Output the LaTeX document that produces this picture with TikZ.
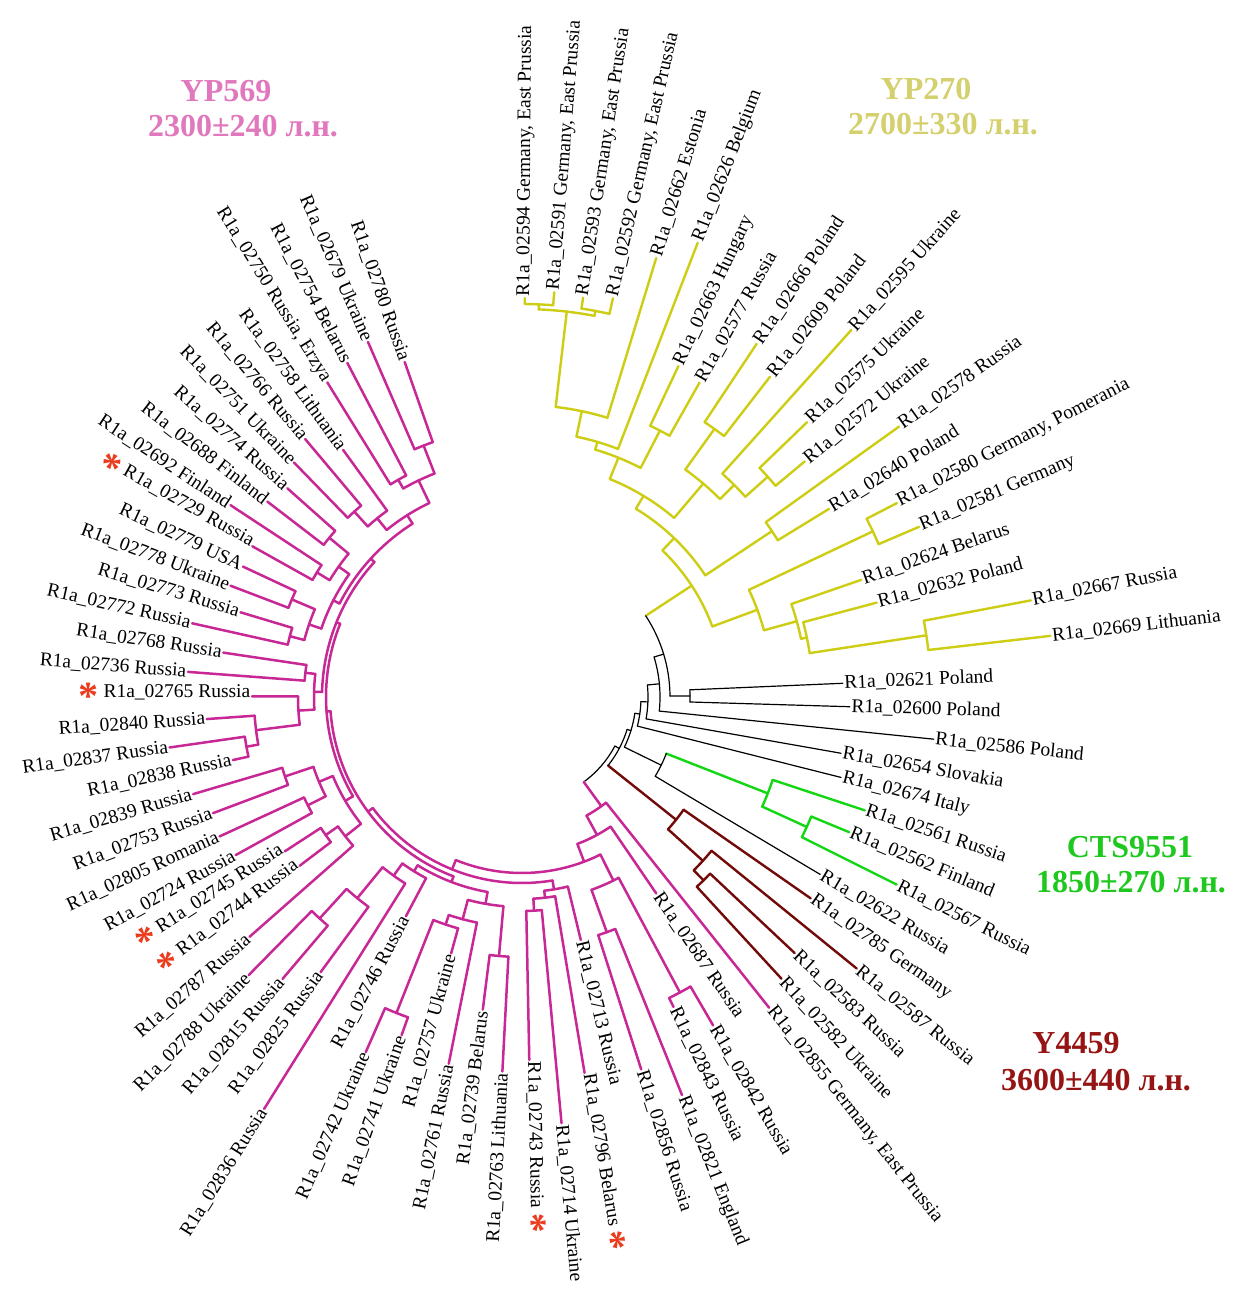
\documentclass[tikz,border=0pt]{standalone}
\usepackage{fontspec}
\setmainfont{Liberation Serif}
\definecolor{cpink}{RGB}{200,40,150}
\definecolor{tpink}{RGB}{225,120,190}
\definecolor{cyel}{RGB}{205,205,20}
\definecolor{tyel}{RGB}{212,208,110}
\definecolor{cgrn}{RGB}{20,215,20}
\definecolor{tgrn}{RGB}{30,200,30}
\definecolor{cbrn}{RGB}{115,10,10}
\definecolor{tbrn}{RGB}{150,20,20}
\definecolor{cast}{RGB}{235,60,30}
\newcommand\redast{\textcolor{cast}{\raisebox{-12pt}{\fontsize{40}{40}\selectfont\bfseries *}}}
\newcommand\nd[6]{%
  \pgfmathsetmacro\Aa{89.6-4.15*(#1)}%
  \pgfmathsetmacro\Ab{89.6-4.15*(#2)}%
  \pgfmathsetmacro\Am{89.6-4.15*(#4)}%
  \draw[#6] (\Aa:#3) arc[start angle=\Aa, end angle=\Ab, radius=#3pt];
  \draw[#6] (\Am:#5) -- (\Am:#3);
}
\newcommand\lf[5]{%
  \pgfmathsetmacro\A{89.6-4.15*(#1)}%
  \draw[#4] (\A:#2) -- (\A:#3) coordinate (t#1);
  \ifnum#1<44\relax
    \node[lab,anchor=west,rotate=\A] (l#1) at (t#1) {#5};
  \else
    \pgfmathsetmacro\B{\A+180}%
    \node[lab,anchor=east,rotate=\B] (l#1) at (t#1) {#5};
  \fi
}
\tikzset{
  lab/.style={font=\fontsize{19.5}{20}\selectfont, inner sep=1.5pt},
  P/.style={draw=cpink, line width=2.5pt, line cap=round, line join=round},
  Y/.style={draw=cyel, line width=2.4pt, line cap=round, line join=round},
  G/.style={draw=cgrn, line width=2.4pt, line cap=round, line join=round},
  Br/.style={draw=cbrn, line width=2.4pt, line cap=round, line join=round},
  K/.style={draw=black, line width=1.2pt, line cap=round, line join=round},
  ttl/.style={font=\fontsize{32}{34}\selectfont\bfseries, inner sep=0pt, anchor=base},
}
\begin{document}
\begin{tikzpicture}[x=1pt,y=1pt]
\useasboundingbox (0,0) rectangle (1241,-1289);
\fill[white] (0,0) rectangle (1241,-1289);
% titles
\node[ttl, text=tpink] (yp569) at (226,-102) {YP569};
\node[ttl, text=tpink] (yp569d) at (243,-137) {2300±240 л.н.};
\node[ttl, text=tyel] (yp270) at (926,-100) {YP270};
\node[ttl, text=tyel] (yp270d) at (943,-135) {2700±330 л.н.};
\node[ttl, text=tgrn] (cts) at (1130,-857) {CTS9551};
\node[ttl, text=tgrn] (ctsd) at (1131,-892) {1850±270 л.н.};
\node[ttl, text=tbrn] (y4459) at (1076,-1053) {Y4459};
\node[ttl, text=tbrn] (y4459d) at (1096,-1090) {3600±440 л.н.};
\begin{scope}[shift={(522,-697)}]
% ---------- yellow clade
\nd{0}{1}{393}{0.5}{388}{Y}
\nd{2}{3}{393}{2.5}{388}{Y}
\nd{0.5}{2.5}{388}{1.5}{292}{Y}
\nd{1.5}{4}{292}{2.75}{266}{Y}
\nd{2.75}{5}{266}{3.875}{258}{Y}
\nd{6}{7}{300}{6.5}{258}{Y}
\nd{3.875}{6.5}{258}{5.19}{235}{Y}
\nd{8}{9}{330}{8.5}{280}{Y}
\nd{11}{12}{330}{11.5}{300}{Y}
\nd{10}{11.5}{300}{10.75}{280}{Y}
\nd{8.5}{10.75}{280}{9.625}{235}{Y}
\nd{5.19}{9.625}{235}{7.41}{220}{Y}
\nd{13}{14}{300}{13.5}{220}{Y}
\nd{7.41}{13.5}{220}{10.45}{203}{Y}
\nd{15}{16}{388}{15.5}{251}{Y}
\nd{19}{20}{409}{19.5}{291}{Y}
\nd{18}{19.5}{291}{18.75}{285}{Y}
\nd{17}{18.75}{285}{17.875}{251}{Y}
\nd{15.5}{17.875}{251}{16.69}{203}{Y}
\nd{10.45}{16.69}{203}{13.57}{148}{Y}
\lf{0}{393}{399}{Y}{R1a\_02594 Germany, East Prussia}
\lf{1}{393}{406}{Y}{R1a\_02591 Germany, East Prussia}
\lf{2}{393}{404}{Y}{R1a\_02593 Germany, East Prussia}
\lf{3}{393}{409}{Y}{R1a\_02592 Germany, East Prussia}
\lf{4}{292}{459}{Y}{R1a\_02662 Estonia}
\lf{5}{266}{487}{Y}{R1a\_02626 Belgium}
\lf{6}{300}{366}{Y}{R1a\_02663 Hungary}
\lf{7}{300}{361}{Y}{R1a\_02577 Russia}
\lf{8}{330}{424}{Y}{R1a\_02666 Poland}
\lf{9}{330}{405}{Y}{R1a\_02609 Poland}
\lf{10}{300}{493}{Y}{R1a\_02595 Ukraine}
\lf{11}{330}{396}{Y}{R1a\_02575 Ukraine}
\lf{12}{330}{368}{Y}{R1a\_02572 Ukraine}
\lf{13}{300}{464}{Y}{R1a\_02578 Russia}
\lf{14}{300}{360}{Y}{R1a\_02640 Poland}
\lf{15}{388}{422}{Y}{R1a\_02580 Germany, Pomerania}
\lf{16}{388}{432}{Y}{R1a\_02581 Germany}
\lf{17}{285}{359}{Y}{R1a\_02624 Belarus}
\lf{18}{291}{367}{Y}{R1a\_02632 Poland}
\lf{19}{409}{518}{Y}{R1a\_02667 Russia}
\lf{20}{409}{532}{Y}{R1a\_02669 Lithuania}
% ---------- black backbone, green, brown
\nd{21}{22}{168}{21.5}{148}{K}
\nd{13.57}{21.5}{148}{17.53}{138}{K}
\nd{17.53}{23}{138}{20.27}{126}{K}
\nd{20.27}{24}{126}{22.13}{119}{K}
\nd{22.13}{25}{119}{23.57}{114}{K}
\nd{27}{28}{313}{27.5}{264}{G}
\nd{26}{27.5}{264}{26.75}{155}{G}
\nd{26.75}{29}{155}{27.875}{114}{K}
\nd{23.57}{27.875}{114}{25.72}{110}{K}
\nd{32}{33}{258}{32.5}{244}{Br}
\nd{31}{32.5}{244}{31.75}{197}{Br}
\nd{30}{31.75}{197}{30.875}{110}{Br}
\nd{25.72}{30.875}{110}{28.3}{105}{K}
\nd{28.3}{34.6}{105}{31.4}{105}{K}
\lf{21}{168}{321}{K}{R1a\_02621 Poland}
\lf{22}{168}{328}{K}{R1a\_02600 Poland}
\lf{23}{138}{414}{K}{R1a\_02586 Poland}
\lf{24}{126}{324}{K}{R1a\_02654 Slovakia}
\lf{25}{119}{329}{K}{R1a\_02674 Italy}
\lf{26}{264}{361}{G}{R1a\_02561 Russia}
\lf{27}{313}{354}{G}{R1a\_02562 Finland}
\lf{28}{313}{419}{G}{R1a\_02567 Russia}
\lf{29}{155}{347}{K}{R1a\_02622 Russia}
\lf{30}{197}{352}{Br}{R1a\_02785 Germany}
\lf{31}{244}{431}{Br}{R1a\_02587 Russia}
\lf{32}{258}{374}{Br}{R1a\_02583 Russia}
\lf{33}{258}{383}{Br}{R1a\_02582 Ukraine}
% ---------- pink clade
\nd{34}{36.4}{135}{34.6}{105}{P}
\nd{35}{38.3}{157}{36.4}{135}{P}
\nd{36.9}{48.6}{176}{38.3}{157}{P}
\nd{36.5}{38.5}{205}{36.9}{176}{P}
\nd{36}{37}{335}{36.5}{205}{P}
\nd{38}{39}{250}{38.5}{205}{P}
\nd{41}{56.13}{186}{48.6}{176}{P}
\nd{40}{41.7}{195}{41}{186}{P}
\nd{41}{42.5}{202}{41.7}{195}{P}
\nd{42}{43}{214}{42.5}{202}{P}
\nd{48.31}{63.94}{192}{56.13}{186}{P}
\nd{45.69}{50.94}{198}{48.31}{192}{P}
\nd{44.5}{46.88}{210}{45.69}{198}{P}
\nd{50}{51.88}{205}{50.94}{198}{P}
\nd{44}{45}{260}{44.5}{210}{P}
\nd{46}{47.75}{230}{46.88}{210}{P}
\nd{47}{48.5}{240}{47.75}{230}{P}
\nd{48}{49}{340}{48.5}{240}{P}
\nd{51}{52.75}{220}{51.88}{205}{P}
\nd{52}{53.5}{260}{52.75}{220}{P}
\nd{53}{54}{300}{53.5}{260}{P}
\nd{57.63}{70.25}{196}{63.94}{192}{P}
\nd{55.75}{59.5}{205}{57.63}{196}{P}
\nd{55}{56.5}{225}{55.75}{205}{P}
\nd{56}{57}{240}{56.5}{225}{P}
\nd{58.5}{60.5}{220}{59.5}{205}{P}
\nd{58}{59}{240}{58.5}{220}{P}
\nd{60}{61}{250}{60.5}{220}{P}
\nd{65.31}{75.19}{200}{70.25}{196}{P}
\nd{64.125}{66.5}{208}{65.31}{200}{P}
\nd{65}{63.25}{224}{64.125}{208}{P}
\nd{64}{62.5}{268}{63.25}{224}{P}
\nd{62}{63}{280}{62.5}{268}{P}
\nd{66}{67}{218}{66.5}{208}{P}
\nd{71.5}{78.875}{205}{75.19}{200}{P}
\nd{69.5}{73.5}{212}{71.5}{205}{P}
\nd{68.5}{70.5}{225}{69.5}{212}{P}
\nd{68}{69}{240}{68.5}{225}{P}
\nd{70}{71}{250}{70.5}{225}{P}
\nd{72.5}{74.5}{225}{73.5}{212}{P}
\nd{72}{73}{240}{72.5}{225}{P}
\nd{74}{75}{250}{74.5}{225}{P}
\nd{77.25}{80.5}{215}{78.875}{205}{P}
\nd{78}{76.5}{230}{77.25}{215}{P}
\nd{76}{77}{250}{76.5}{230}{P}
\nd{79.5}{81.5}{240}{80.5}{215}{P}
\nd{79}{80}{250}{79.5}{240}{P}
\nd{81}{82}{270}{81.5}{240}{P}
\lf{34}{135}{397}{P}{R1a\_02855 Germany, East Prussia}
\lf{35}{157}{238}{P}{R1a\_02687 Russia}
\lf{36}{335}{380}{P}{R1a\_02842 Russia}
\lf{37}{335}{345}{P}{R1a\_02843 Russia}
\lf{38}{250}{429}{P}{R1a\_02821 England}
\lf{39}{250}{391}{P}{R1a\_02856 Russia}
\lf{40}{195}{250}{P}{R1a\_02713 Russia}
\lf{41}{202}{381}{P}{R1a\_02796 Belarus \redast}
\lf{42}{214}{428}{P}{R1a\_02714 Ukraine}
\lf{43}{214}{363}{P}{R1a\_02743 Russia \redast}
\lf{44}{260}{375}{P}{R1a\_02763 Lithuania}
\lf{45}{260}{315}{P}{R1a\_02739 Belarus}
\lf{46}{230}{374}{P}{R1a\_02761 Russia}
\lf{47}{240}{266}{P}{R1a\_02757 Ukraine}
\lf{48}{340}{359}{P}{R1a\_02741 Ukraine}
\lf{49}{340}{388}{P}{R1a\_02742 Ukraine}
\lf{50}{205}{248}{P}{R1a\_02746 Russia}
\lf{51}{220}{486}{P}{R1a\_02836 Russia}
\lf{52}{260}{341}{P}{R1a\_02825 Russia}
\lf{53}{300}{370}{P}{R1a\_02815 Russia}
\lf{54}{300}{390}{P}{R1a\_02788 Ukraine}
\lf{55}{225}{363}{P}{R1a\_02787 Russia}
\lf{56}{240}{279}{P}{\redast\ R1a\_02744 Russia}
\lf{57}{240}{283}{P}{\redast\ R1a\_02745 Russia}
\lf{58}{240}{327}{P}{R1a\_02724 Russia}
\lf{59}{240}{333}{P}{R1a\_02805 Romania}
\lf{60}{250}{330}{P}{R1a\_02753 Russia}
\lf{61}{250}{343}{P}{R1a\_02839 Russia}
\lf{62}{280}{296}{P}{R1a\_02838 Russia}
\lf{63}{280}{356}{P}{R1a\_02837 Russia}
\lf{64}{268}{316}{P}{R1a\_02840 Russia}
\lf{65}{224}{270}{P}{\redast\ R1a\_02765 Russia}
\lf{66}{218}{335}{P}{R1a\_02736 Russia}
\lf{67}{218}{302}{P}{R1a\_02768 Russia}
\lf{68}{240}{338}{P}{R1a\_02772 Russia}
\lf{69}{240}{294}{P}{R1a\_02773 Russia}
\lf{70}{250}{312}{P}{R1a\_02778 Ukraine}
\lf{71}{250}{308}{P}{R1a\_02779 USA}
\lf{72}{240}{309}{P}{\redast\ R1a\_02729 Russia}
\lf{73}{240}{349}{P}{R1a\_02692 Finland}
\lf{74}{250}{321}{P}{R1a\_02688 Finland}
\lf{75}{250}{314}{P}{R1a\_02774 Russia}
\lf{76}{250}{327}{P}{R1a\_02751 Ukraine}
\lf{77}{250}{337}{P}{R1a\_02766 Russia}
\lf{78}{230}{305}{P}{R1a\_02758 Lithuania}
\lf{79}{250}{370}{P}{R1a\_02750 Russia, Erzya}
\lf{80}{250}{377}{P}{R1a\_02754 Belarus}
\lf{81}{270}{387}{P}{R1a\_02679 Ukraine}
\lf{82}{270}{355}{P}{R1a\_02780 Russia}
\end{scope}
\end{tikzpicture}
\end{document}
